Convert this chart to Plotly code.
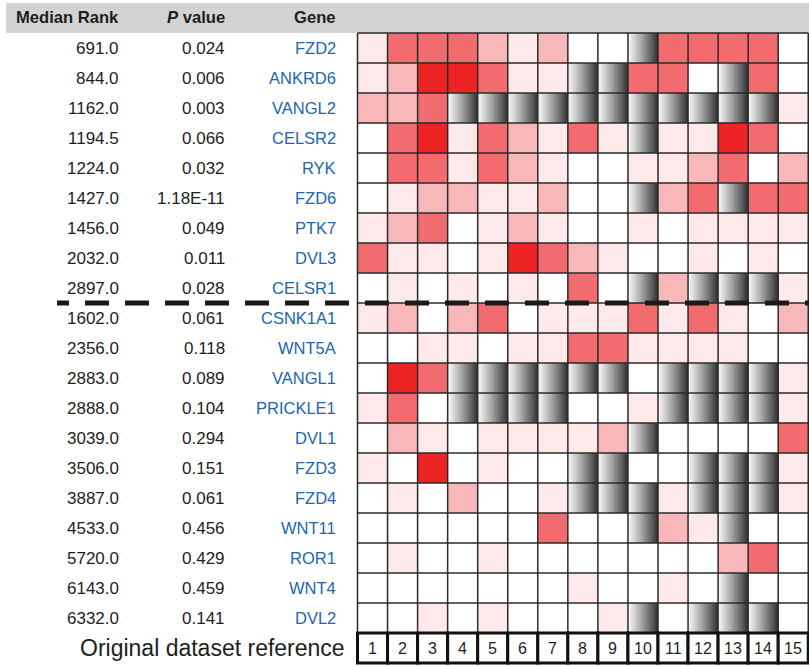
import plotly.graph_objects as go

# ---- data -------------------------------------------------------------
genes = ["FZD2", "ANKRD6", "VANGL2", "CELSR2", "RYK", "FZD6", "PTK7", "DVL3",
         "CELSR1", "CSNK1A1", "WNT5A", "VANGL1", "PRICKLE1", "DVL1", "FZD3",
         "FZD4", "WNT11", "ROR1", "WNT4", "DVL2"]
median_rank = [691.0, 844.0, 1162.0, 1194.5, 1224.0, 1427.0, 1456.0, 2032.0,
               2897.0, 1602.0, 2356.0, 2883.0, 2888.0, 3039.0, 3506.0, 3887.0,
               4533.0, 5720.0, 6143.0, 6332.0]
p_values = ["0.024", "0.006", "0.003", "0.066", "0.032", "1.18E-11", "0.049",
            "0.011", "0.028", "0.061", "0.118", "0.089", "0.104", "0.294",
            "0.151", "0.061", "0.456", "0.429", "0.459", "0.141"]
datasets = list(range(1, 16))

# rank level per dataset: 0 = none, 1..4 = increasing red, G = not measured
levels = [
    "1 3 3 3 2 1 2 0 0 G 3 3 3 3 0",
    "1 2 4 4 3 1 1 G G 3 3 0 G 3 0",
    "2 2 3 G G G G G G G G G G G 1",
    "0 3 4 1 3 2 1 3 1 G 1 1 4 3 0",
    "0 3 3 1 3 2 1 0 0 1 1 2 3 0 2",
    "0 1 2 2 1 1 2 0 0 G 2 3 G 3 3",
    "1 2 3 0 1 2 1 0 0 1 0 1 1 1 1",
    "3 1 1 0 1 4 3 2 1 0 0 1 0 1 0",
    "0 1 0 1 0 1 0 3 0 G 2 G G G 1",
    "1 2 0 2 3 0 1 1 1 3 1 3 1 0 2",
    "0 0 1 1 0 1 1 3 3 1 1 1 1 0 0",
    "0 4 3 G G G G G G 0 G G G G 1",
    "1 3 0 G G G G 0 0 1 G G G G 1",
    "0 2 1 0 1 1 1 1 2 G 0 0 0 0 3",
    "1 0 4 0 1 0 0 G G 0 0 G G G 1",
    "0 1 0 2 0 0 1 G G G 1 G G G 1",
    "0 0 0 0 0 0 3 0 0 G 2 1 G 0 0",
    "0 1 0 0 1 0 0 0 0 0 0 0 2 3 0",
    "0 0 0 0 0 0 0 1 0 0 1 0 G 0 0",
    "0 0 1 0 1 0 0 0 1 G 0 G G G 0",
]
split_after = 9  # first block of genes

# ---- styling ----------------------------------------------------------
FONT = "Liberation Sans, Arial, sans-serif"
TXT = "#1e1e1e"
BLUE = "#2166AC"
SUB = 30  # sub-columns per cell, used to shade the "G" cells

n_rows, n_cols = len(genes), len(datasets)

# colour scale: discrete bands for levels 0..4, continuous grey ramp for z in [5, 10]
reds = ["#FFFFFF", "#FDE9E9", "#F8B8BA", "#F26B6F", "#EE2324"]
colorscale = []
for i, c in enumerate(reds):
    lo = max(0.0, (i - 0.5) / 10)
    hi = (i + 0.5) / 10
    colorscale += [[lo, c], [hi, c]]
grey = [(0.0, "#FAFAFA"), (0.2, "#D6D6D6"), (0.5, "#9C9C9C"),
        (0.8, "#5C5C5C"), (1.0, "#2E2E2E")]
for t, c in grey:
    colorscale.append([0.5 + 0.5 * t, c])

z = []
for row in levels:
    vals = row.split()
    zr = []
    for v in vals:
        for j in range(SUB):
            if v == "G":
                zr.append(5 + 5 * (j + 0.5) / SUB)
            else:
                zr.append(float(v))
    z.append(zr)

xs = [(j + 0.5) / SUB for j in range(n_cols * SUB)]
ys = list(range(n_rows))

fig = go.Figure()
fig.add_trace(go.Heatmap(
    z=z, x=xs, y=ys, zmin=0, zmax=10, colorscale=colorscale,
    showscale=False, hoverinfo="skip", zsmooth=False,
))

shapes = []
# header band
shapes.append(dict(type="rect", xref="x", yref="y", x0=-11.70, x1=15.1,
                   y0=-1.5, y1=-0.5, fillcolor="#D3D3D3", line=dict(width=0),
                   layer="below"))
# grid lines
for c in range(n_cols + 1):
    shapes.append(dict(type="line", xref="x", yref="y", x0=c, x1=c,
                       y0=-0.5, y1=n_rows - 0.5,
                       line=dict(color="#2a2a2a", width=1.5)))
for r in range(n_rows + 1):
    shapes.append(dict(type="line", xref="x", yref="y", x0=0, x1=n_cols,
                       y0=r - 0.5, y1=r - 0.5,
                       line=dict(color="#2a2a2a", width=1.5)))
# dataset boxes
for c in range(n_cols):
    shapes.append(dict(type="rect", xref="x", yref="y", x0=c, x1=c + 1,
                       y0=n_rows - 0.5, y1=n_rows + 0.5, fillcolor="white",
                       line=dict(color="#111111", width=3)))
# separator between the two gene groups
dash = "12px,16px" + ",24px,16px" * 25
shapes.append(dict(type="line", xref="x", yref="y", x0=-10.0, x1=15.1,
                   y0=split_after - 0.5, y1=split_after - 0.5,
                   line=dict(color="#1a1a1a", width=5, dash=dash)))

annotations = []
COL_RANK, COL_P, COL_GENE = -7.95, -4.42, -0.73


def label(x, y, text, size=16, color=TXT, anchor="right"):
    annotations.append(dict(x=x, y=y, xref="x", yref="y", text=text,
                            showarrow=False, xanchor=anchor, yanchor="middle",
                            font=dict(family=FONT, size=size, color=color),
                            borderpad=0, borderwidth=0))


# column headers
label(COL_RANK, -1.03, "<b>Median Rank</b>", size=16.6)
label(COL_P, -1.03, "<b><i>P</i> value</b>", size=16.6)
label(COL_GENE, -1.03, "<b>Gene</b>", size=16.6)

for i in range(n_rows):
    label(COL_RANK, i, f"{median_rank[i]:.1f}", size=17)
    label(COL_P, i, p_values[i], size=17)
    label(COL_GENE, i, genes[i], size=16.5, color=BLUE)

for c, d in enumerate(datasets):
    label(c + 0.5, n_rows, str(d), anchor="center")

label(-0.40, n_rows, "Original dataset reference", size=23)

fig.update_layout(
    width=809, height=666,
    margin=dict(l=0, r=0, t=0, b=0),
    paper_bgcolor="white", plot_bgcolor="white",
    xaxis=dict(visible=False, range=[-11.897, 15.025], fixedrange=True),
    yaxis=dict(visible=False, range=[20.6, -1.6], fixedrange=True),
    shapes=shapes, annotations=annotations, showlegend=False,
)

fig.write_html("out.html")
